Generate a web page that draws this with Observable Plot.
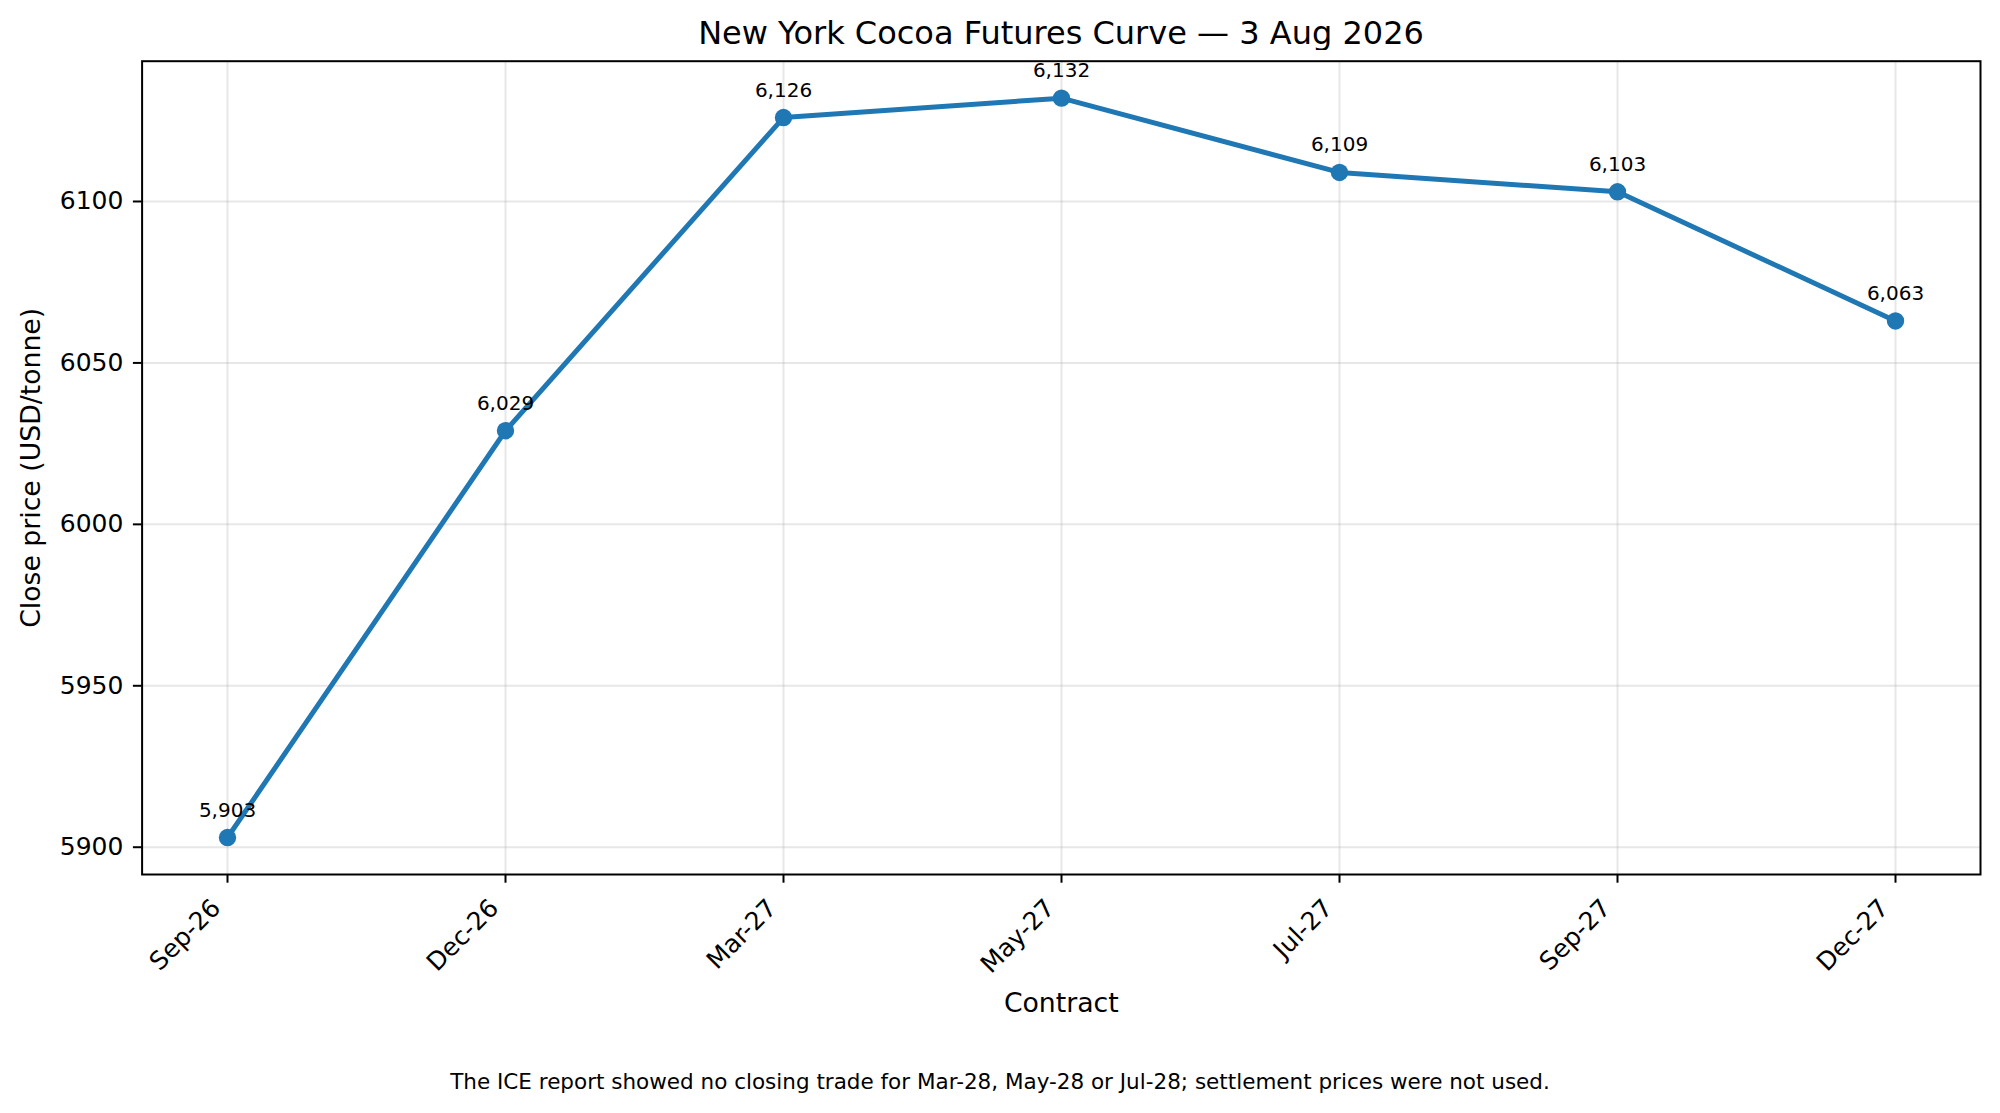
<!DOCTYPE html>
<html>
<head>
<meta charset="utf-8">
<script src="https://cdn.jsdelivr.net/npm/d3@7"></script>
<script src="https://cdn.jsdelivr.net/npm/@observablehq/plot@0.6"></script>
<style>
  html, body { margin: 0; padding: 0; background: #fff; }
  #fig { position: relative; width: 2000px; height: 1113px; font-family: "DejaVu Sans", sans-serif; color: #000; }
  #title { position: absolute; left: 142px; width: 1838px; top: 17px; font-size: 32px; line-height: 32px; text-align: center; white-space: nowrap; }
  #chart { position: absolute; left: 0; top: 50px; }
  #caption { position: absolute; left: 0; width: 2000px; top: 1071px; font-size: 21.5px; line-height: 21.5px; text-align: center; white-space: nowrap; }
</style>
</head>
<body>
<div id="fig">
  <div id="title"></div>
  <div id="chart"></div>
  <div id="caption"></div>
</div>
<script>
const titleText = "New York Cocoa Futures Curve — 3 Aug 2026";
const captionText = "The ICE report showed no closing trade for Mar-28, May-28 or Jul-28; settlement prices were not used.";
const xLabel = "Contract";
const yLabel = "Close price (USD/tonne)";

const contracts = ["Sep-26", "Dec-26", "Mar-27", "May-27", "Jul-27", "Sep-27", "Dec-27"];
const closePrices = [5903, 6029, 6126, 6132, 6109, 6103, 6063];
const yTicks = [5900, 5950, 6000, 6050, 6100];

const data = contracts.map((c, i) => ({contract: c, price: closePrices[i]}));

document.getElementById("title").textContent = titleText;
document.getElementById("caption").textContent = captionText;

const [lo, hi] = d3.extent(closePrices);
const pad = (hi - lo) * 0.05;
const fmt = d3.format(",");
const blue = "#1f77b4";

const chart = Plot.plot({
  width: 2000,
  height: 990,
  marginTop: 10.7,
  marginBottom: 166,
  marginLeft: 141.6,
  marginRight: 20,
  style: {fontFamily: "DejaVu Sans", fontSize: "25px", color: "#000", background: "#fff", overflow: "visible"},
  x: {type: "point", domain: contracts, padding: 0.3, align: 0.5},
  y: {domain: [lo - pad, hi + pad]},
  marks: [
    Plot.gridX(contracts, {stroke: "#b0b0b0", strokeOpacity: 0.3, strokeWidth: 2}),
    Plot.gridY(yTicks, {stroke: "#b0b0b0", strokeOpacity: 0.3, strokeWidth: 2}),
    Plot.axisY({ticks: yTicks, tickSize: 8.7, tickPadding: 10, strokeWidth: 2, stroke: "#000", fill: "#000", fontSize: 25, tickFormat: d => String(d), label: null}),
    Plot.axisX({ticks: contracts, tickSize: 8.7, strokeWidth: 2, stroke: "#000", tickFormat: () => "", label: null}),
    Plot.text(contracts, {x: d => d, frameAnchor: "bottom", text: d => d, rotate: -45, textAnchor: "end", lineAnchor: "bottom", dx: -5.5, dy: 35, fontSize: 25, fill: "#000"}),
    Plot.text([xLabel], {frameAnchor: "bottom", text: d => d, textAnchor: "middle", lineAnchor: "middle", dy: 129, fontSize: 26.7, fill: "#000"}),
    Plot.text([yLabel], {frameAnchor: "left", text: d => d, rotate: -90, textAnchor: "middle", lineAnchor: "middle", dx: -111, fontSize: 26.7, fill: "#000"}),
    Plot.line(data, {x: "contract", y: "price", stroke: blue, strokeWidth: 5}),
    Plot.dot(data, {x: "contract", y: "price", r: 8.7, fill: blue, stroke: "none"}),
    Plot.text(data, {x: "contract", y: "price", text: d => fmt(d.price), lineAnchor: "bottom", textAnchor: "middle", dy: -21, fontSize: 20, fill: "#000"}),
    Plot.frame({stroke: "#000", strokeWidth: 2})
  ]
});
document.getElementById("chart").appendChild(chart);
</script>
</body>
</html>
